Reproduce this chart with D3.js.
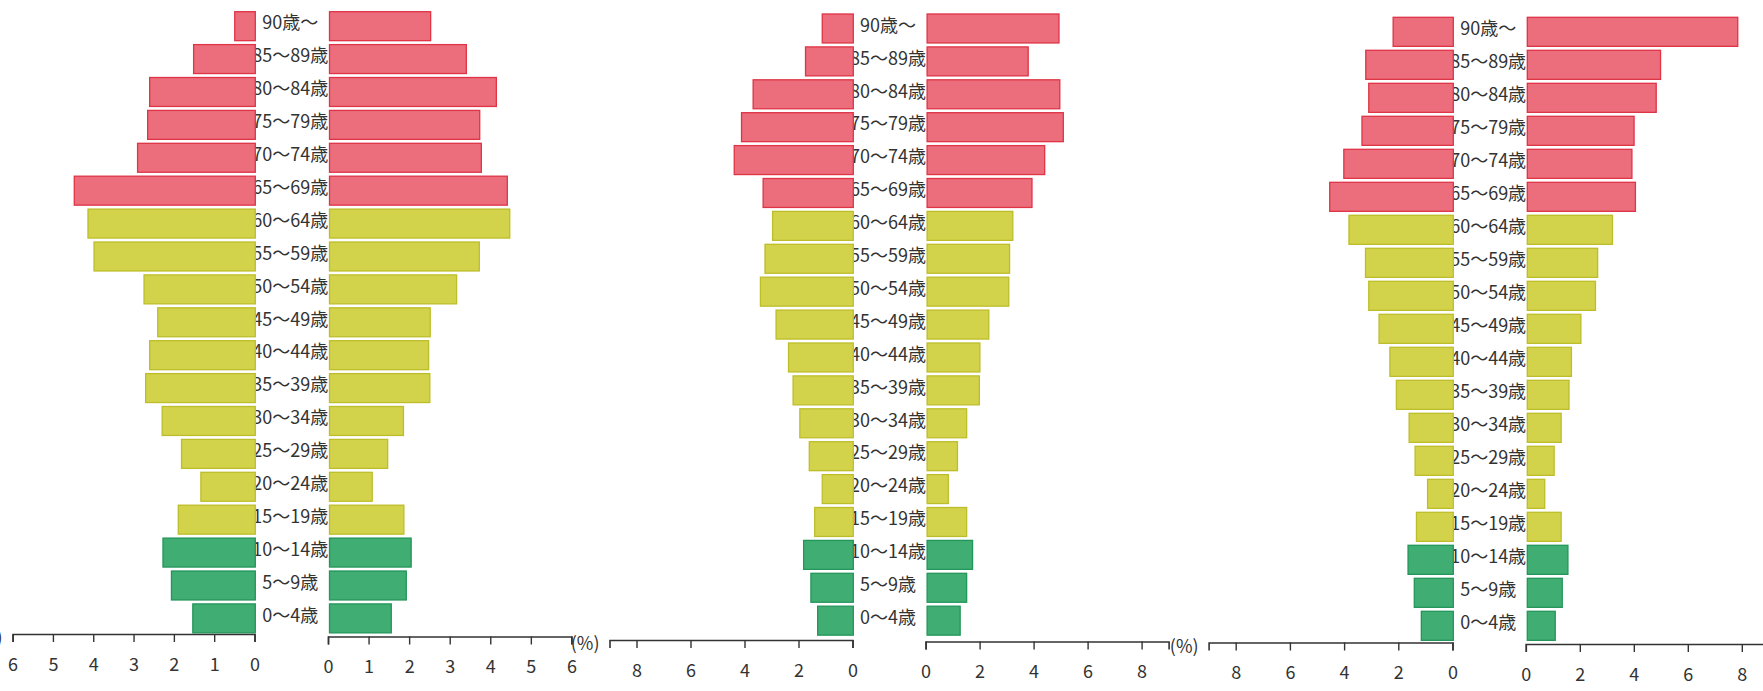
<!DOCTYPE html>
<html>
<head>
<meta charset="utf-8">
<script src="https://cdn.jsdelivr.net/npm/d3@7"></script>
<style>
  body { margin: 0; background: #fff; }
  text { font-family: "Noto Sans CJK JP", "Noto Sans", sans-serif; fill: #333; }
</style>
</head>
<body>
<div id="chart"></div>
<script>
// age classes, youngest first (drawn bottom -> top)
const ages = ["0～4歳","5～9歳","10～14歳","15～19歳","20～24歳","25～29歳","30～34歳","35～39歳","40～44歳",
  "45～49歳","50～54歳","55～59歳","60～64歳","65～69歳","70～74歳","75～79歳","80～84歳","85～89歳","90歳～"];

// shares in %
const p1Left  = [1.53,2.06,2.27,1.89,1.33,1.81,2.29,2.70,2.60,2.40,2.74,3.98,4.13,4.47,2.90,2.65,2.60,1.51,0.49];
const p1Right = [1.56,1.93,2.05,1.87,1.09,1.47,1.86,2.51,2.48,2.52,3.17,3.73,4.48,4.42,3.78,3.74,4.15,3.41,2.53];
const p2Left  = [1.29,1.54,1.81,1.40,1.12,1.60,1.95,2.20,2.37,2.83,3.41,3.24,2.96,3.31,4.38,4.11,3.68,1.74,1.12];
const p2Right = [1.28,1.52,1.74,1.52,0.84,1.18,1.52,1.99,2.01,2.34,3.08,3.11,3.23,3.94,4.41,5.10,4.97,3.80,4.94];
const p3Left  = [1.15,1.41,1.64,1.33,0.92,1.38,1.60,2.07,2.31,2.71,3.09,3.21,3.82,4.53,4.01,3.34,3.09,3.20,2.19];
const p3Right = [1.09,1.35,1.56,1.31,0.70,1.05,1.31,1.60,1.69,2.04,2.58,2.66,3.21,4.06,3.93,4.01,4.83,4.99,7.85];

const ticks1 = [0,1,2,3,4,5,6];
const ticks2 = [0,2,4,6,8];

const W = 1763, H = 691;
const svg = d3.select("#chart").append("svg").attr("width", W).attr("height", H);

// layout of each pyramid on the page
const panels = [
  {left: p1Left, right: p1Right, max: 6, ticks: ticks1, lz: 254.5, rz: 328,    lEnd: 12.6,  rEnd: 571.4, top: 11.7, step: 32.9, axL: 634, axR: 636.5},
  {left: p2Left, right: p2Right, max: 9, ticks: ticks2, lz: 852.5, rz: 925.6,  lEnd: 609.5, rEnd: 1168.6, top: 14,  step: 32.9, axL: 640, axR: 641.5},
  {left: p3Left, right: p3Right, max: 9, ticks: ticks2, lz: 1452.5, rz: 1525.8, lEnd: 1208.6, rEnd: 1768.8, top: 17.3, step: 33, axL: 642.5, axR: 644}
];

function colors(i) {
  if (i <= 2) return {fill: "#40ad72", stroke: "#23965a"};
  if (i <= 12) return {fill: "#d2d34a", stroke: "#bdbd2a"};
  return {fill: "#ec6e7c", stroke: "#de3446"};
}

const pad = 0.12;

panels.forEach(function(p) {
  const g = svg.append("g");
  const y = d3.scaleBand()
    .domain(ages.slice().reverse())
    .range([p.top - p.step * pad, p.top - p.step * pad + p.step * (ages.length + pad)])
    .padding(pad);

  const xl = d3.scaleLinear().domain([0, p.max]).range([p.lz, p.lEnd]);
  const xr = d3.scaleLinear().domain([0, p.max]).range([p.rz, p.rEnd]);

  // age labels first so the bars cover their edges like in the print
  const mid = (p.lz + p.rz) / 2 - 1;
  g.selectAll("text.age").data(ages).enter().append("text")
    .attr("class", "age")
    .attr("x", mid)
    .attr("y", d => y(d) + y.bandwidth() / 2 - 3)
    .attr("dy", "0.35em")
    .attr("text-anchor", "middle")
    .style("font-size", "18px")
    .text(d => d);

  g.selectAll("rect.l").data(p.left).enter().append("rect")
    .attr("class", "l")
    .attr("x", d => xl(d))
    .attr("y", (d, i) => y(ages[i]))
    .attr("width", d => xl(0) - xl(d) + 0.8)
    .attr("height", y.bandwidth())
    .attr("fill", (d, i) => colors(i).fill)
    .attr("stroke", (d, i) => colors(i).stroke)
    .attr("stroke-width", 1.3);

  g.selectAll("rect.r").data(p.right).enter().append("rect")
    .attr("class", "r")
    .attr("x", xr(0) + 1.5)
    .attr("y", (d, i) => y(ages[i]))
    .attr("width", d => xr(d) - xr(0) - 1.5)
    .attr("height", y.bandwidth())
    .attr("fill", (d, i) => colors(i).fill)
    .attr("stroke", (d, i) => colors(i).stroke)
    .attr("stroke-width", 1.3);

  // axes
  const fmt = d3.format("d");
  const axL = g.append("g").attr("transform", `translate(0,${p.axL})`)
    .call(d3.axisBottom(xl).tickValues(p.ticks).tickFormat(fmt).tickSize(8).tickSizeOuter(8).tickPadding(16));
  const axR = g.append("g").attr("transform", `translate(0,${p.axR})`)
    .call(d3.axisBottom(xr).tickValues(p.ticks).tickFormat(fmt).tickSize(8).tickSizeOuter(8).tickPadding(16));
  [axL, axR].forEach(function(a) {
    a.select(".domain").attr("stroke", "#333").attr("stroke-width", 1.6);
    a.selectAll(".tick line").attr("stroke", "#333").attr("stroke-width", 1.4);
    a.selectAll(".tick text").style("font-size", "18px").attr("fill", "#333")
      .style("font-family", "'Noto Sans CJK JP', sans-serif");
  });

  g.append("text")
    .attr("x", p.lEnd - 10)
    .attr("y", p.axL + 4)
    .attr("dy", "0.35em")
    .attr("text-anchor", "end")
    .style("font-size", "18px")
    .text("(%)");
});
</script>
</body>
</html>
